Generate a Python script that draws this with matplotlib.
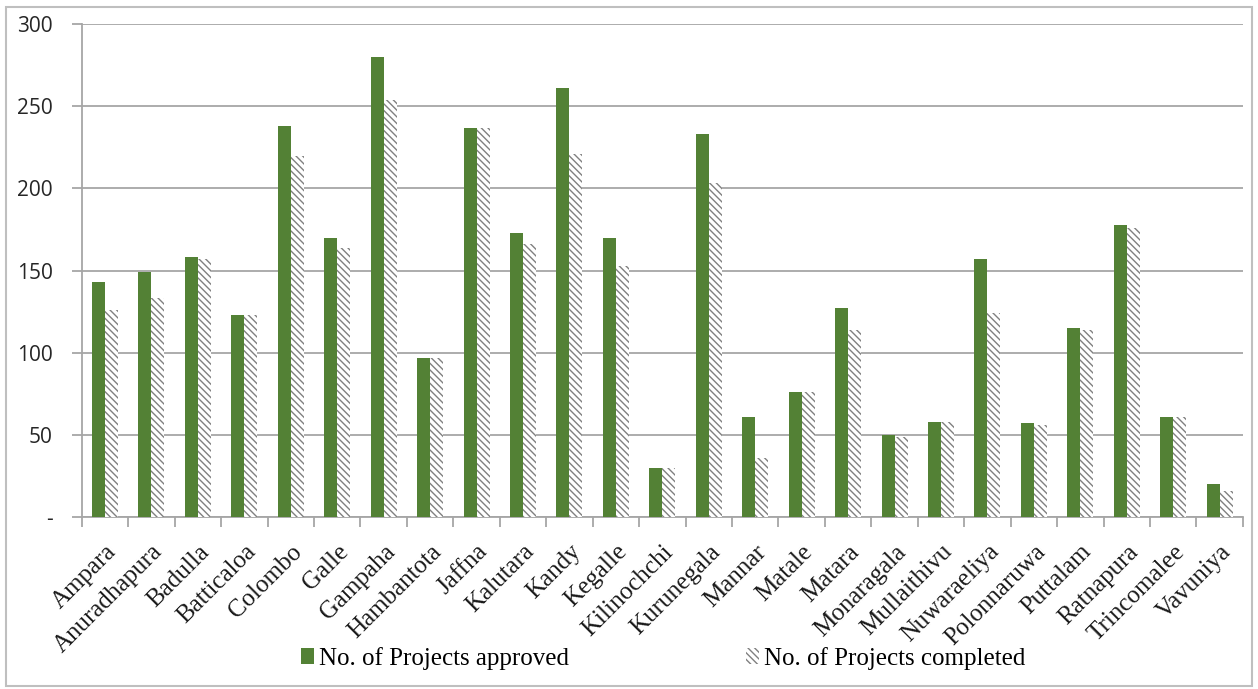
import matplotlib.pyplot as plt
import matplotlib.patches as mpatches
import numpy as np

districts = ["Ampara", "Anuradhapura", "Badulla", "Batticaloa", "Colombo", "Galle",
             "Gampaha", "Hambantota", "Jaffna", "Kalutara", "Kandy", "Kegalle",
             "Kilinochchi", "Kurunegala", "Mannar", "Matale", "Matara", "Monaragala",
             "Mullaithivu", "Nuwaraeliya", "Polonnaruwa", "Puttalam", "Ratnapura",
             "Trincomalee", "Vavuniya"]
approved = [143, 149, 158, 123, 238, 170, 280, 97, 237, 173, 261, 170,
            30, 233, 61, 76, 127, 50, 58, 157, 57, 115, 178, 61, 20]
completed = [126, 133, 157, 123, 220, 164, 254, 97, 237, 166, 221, 153,
             30, 203, 36, 76, 114, 49, 58, 124, 56, 114, 176, 61, 16]
yticks = [0, 50, 100, 150, 200, 250, 300]
ytick_labels = ["-", "50", "100", "150", "200", "250", "300"]

green = '#538135'
grid_c = '#A6A6A6'

plt.rcParams['hatch.linewidth'] = 1.0

fig = plt.figure(figsize=(12.58, 6.89), dpi=100)
ax = fig.add_axes([0.065, 0.2496, 0.923, 0.7155])

x = np.arange(len(districts))
w = 0.28
ax.bar(x - w/2, approved, w, color=green, label="No. of Projects approved", zorder=3)
ax.bar(x + w/2, completed, w, color='white', edgecolor='#808080', hatch='\\' * 5,
       linewidth=0, label="No. of Projects completed", zorder=3)

ax.set_xlim(-0.5, len(districts) - 0.5)
ax.set_ylim(0, 300)
ax.set_yticks(yticks)
ax.set_yticklabels(ytick_labels, family='Open Sans', fontsize=15, color='#262626')
ax.yaxis.grid(True, color=grid_c, linewidth=1.3, zorder=0)
ax.tick_params(axis='y', length=7, color=grid_c, width=1.3, pad=14)

ax.set_xticks(np.arange(len(districts) + 1) - 0.5, minor=False)
ax.set_xticklabels([])
ax.set_xticks(x, minor=True)
ax.set_xticklabels(districts, minor=True, rotation=45, ha='right', rotation_mode='anchor',
                   family='Liberation Serif', fontsize=18, color='#1a1a1a')
ax.tick_params(axis='x', which='major', length=7, color=grid_c, width=1.3)
ax.tick_params(axis='x', which='minor', length=0, pad=17)

for s in ['top', 'right']:
    ax.spines[s].set_visible(False)
for s in ['left', 'bottom']:
    ax.spines[s].set_color(grid_c)
    ax.spines[s].set_linewidth(1.3)

fig.legend(loc='lower center', bbox_to_anchor=(0.527, -0.005), ncol=2, frameon=False,
           prop={'family': 'Liberation Serif', 'size': 18}, handlelength=0.5,
           handleheight=0.6, handletextpad=0.2, columnspacing=7.1)

fig.patches.append(mpatches.Rectangle((0.005, 0.005), 0.99, 0.985, transform=fig.transFigure,
                                      fill=False, edgecolor='#BFBFBF', linewidth=1.5))

fig.savefig('out.png', dpi=100)
